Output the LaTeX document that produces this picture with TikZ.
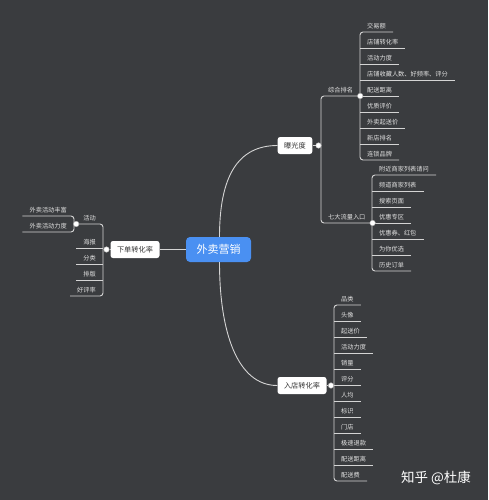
\documentclass[tikz,border=0pt]{standalone}
\usepackage{fontspec}
\setmainfont{Noto Sans CJK SC}
\usetikzlibrary{calc}
\definecolor{bg}{HTML}{3A3C3F}
\definecolor{linec}{HTML}{D4D4D4}
\definecolor{leafc}{HTML}{E2E2E2}
\definecolor{rootc}{HTML}{4A90F2}
\definecolor{boxtxt}{HTML}{333333}
\begin{document}
\begin{tikzpicture}[x=1pt,y=-1pt,
 ln/.style={draw=linec,line width=0.9pt},
 trunk/.style={ln,rounded corners=3pt},
 leaf/.style={font=\fontsize{6.2}{7}\selectfont, text=leafc, inner xsep=7pt, inner ysep=2.5pt, anchor=south west},
 leafl/.style={leaf, anchor=south east},
 topic/.style={fill=white, rounded corners=2.5pt, text=boxtxt, font=\fontsize{7.2}{8}\selectfont, minimum height=17pt, inner xsep=6.5pt, inner ysep=0pt},
 rootbox/.style={fill=rootc, rounded corners=4pt, text=white, font=\fontsize{11}{12}\selectfont, minimum width=65pt, minimum height=25pt, inner sep=0pt},
 dot/.style={circle, fill=white, draw=gray!70, line width=0.4pt, inner sep=0pt, minimum size=5.6pt}]

\fill[bg] (0,0) rectangle (488,500);
\useasboundingbox (0,0) rectangle (488,500);

% main topics
\node[rootbox] (root) at (218.5,249.5) {外卖营销};
\node[topic] (exp) at (295,145.5) {曝光度};
\node[topic] (ent) at (302,385.5) {入店转化率};
\node[topic] (ord) at (135,249.5) {下单转化率};

\draw[ln] ([xshift=1pt]root.north) .. controls +(0,-60) and +(-40,0) .. (exp.west);
\draw[ln] ([xshift=1pt]root.south) .. controls +(0,70) and +(-40,0) .. (ent.west);
\draw[ln] (root.west) -- (ord.east);

% ===== exposure branch
\node[leaf] (zh) at (321,96) {综合排名};
\node[leaf] (qd) at (321,223) {七大流量入口};
\draw[trunk] (zh.south east) -- (zh.south west) -- (qd.south west) -- (qd.south east);
\node[dot] (expdot) at (318.5,145.5) {};
\draw[ln] (exp.east) -- (expdot);

\node[leaf] (a1) at (360,32) {交易额};
\node[leaf] (a2) at (360,48) {店铺转化率};
\node[leaf] (a3) at (360,64) {活动力度};
\node[leaf] (a4) at (360,80) {店铺收藏人数、好频率、评分};
\node[leaf] (a5) at (360,96) {配送距离};
\node[leaf] (a6) at (360,112) {优质评价};
\node[leaf] (a7) at (360,128) {外卖起送价};
\node[leaf] (a8) at (360,144) {新店排名};
\node[leaf] (a9) at (360,160) {连锁品牌};
\draw[trunk] (a1.south east) -- (a1.south west) -- (a9.south west) -- (a9.south east);
\foreach \n in {a2,a3,a4,a5,a6,a7,a8} \draw[ln] (\n.south west) -- (\n.south east);
\node[dot] (zhdot) at (zh.south east) {};

\node[leaf] (b1) at (372,175) {附近商家列表请问};
\node[leaf] (b2) at (372,191) {频道商家列表};
\node[leaf] (b3) at (372,207) {搜索页面};
\node[leaf] (b4) at (372,223) {优惠专区};
\node[leaf] (b5) at (372,239) {优惠券、红包};
\node[leaf] (b6) at (372,255) {为你优选};
\node[leaf] (b7) at (372,271) {历史订单};
\draw[trunk] (b1.south east) -- (b1.south west) -- (b7.south west) -- (b7.south east);
\foreach \n in {b2,b3,b4,b5,b6} \draw[ln] (\n.south west) -- (\n.south east);
\node[dot] (qddot) at (qd.south east) {};

% ===== entry conversion branch
\node[leaf] (c1) at (334,305) {品类};
\node[leaf] (c2) at (334,321) {头像};
\node[leaf] (c3) at (334,337) {起送价};
\node[leaf] (c4) at (334,353) {活动力度};
\node[leaf] (c5) at (334,369) {销量};
\node[leaf] (c6) at (334,385) {评分};
\node[leaf] (c7) at (334,401) {人均};
\node[leaf] (c8) at (334,417) {标识};
\node[leaf] (c9) at (334,433) {门店};
\node[leaf] (c10) at (334,449) {极速退款};
\node[leaf] (c11) at (334,465) {配送距离};
\node[leaf] (c12) at (334,481) {配送费};
\draw[trunk] (c1.south east) -- (c1.south west) -- (c12.south west) -- (c12.south east);
\foreach \n in {c2,c3,c4,c5,c6,c7,c8,c9,c10,c11} \draw[ln] (\n.south west) -- (\n.south east);
\node[dot] (entdot) at (331,385.5) {};
\draw[ln] (ent.east) -- (entdot);

% ===== order conversion branch
\node[leafl] (d1) at (103,224) {活动};
\node[leafl] (d2) at (103,248) {海报};
\node[leafl] (d3) at (103,264) {分类};
\node[leafl] (d4) at (103,280) {排版};
\node[leafl] (d5) at (103,296) {好评率};
\draw[trunk] (d1.south west) -- (d1.south east) -- (d5.south east) -- (d5.south west);
\foreach \n in {d2,d3,d4} \draw[ln] (\n.south east) -- (\n.south west);
\node[dot] (orddot) at (106.5,249.5) {};
\draw[ln] (ord.west) -- (orddot);

\node[leafl] (e1) at (74,216) {外卖活动丰富};
\node[leafl] (e2) at (74,232) {外卖活动力度};
\draw[trunk] (e1.south west) -- (e1.south east) -- (e2.south east) -- (e2.south west);
\node[dot] (actdot) at (d1.south west) {};

% watermark
\node[font=\fontsize{13.5}{15}\selectfont, text=white] (wm) at (436,478) {知乎 @杜康};
\end{tikzpicture}
\end{document}
